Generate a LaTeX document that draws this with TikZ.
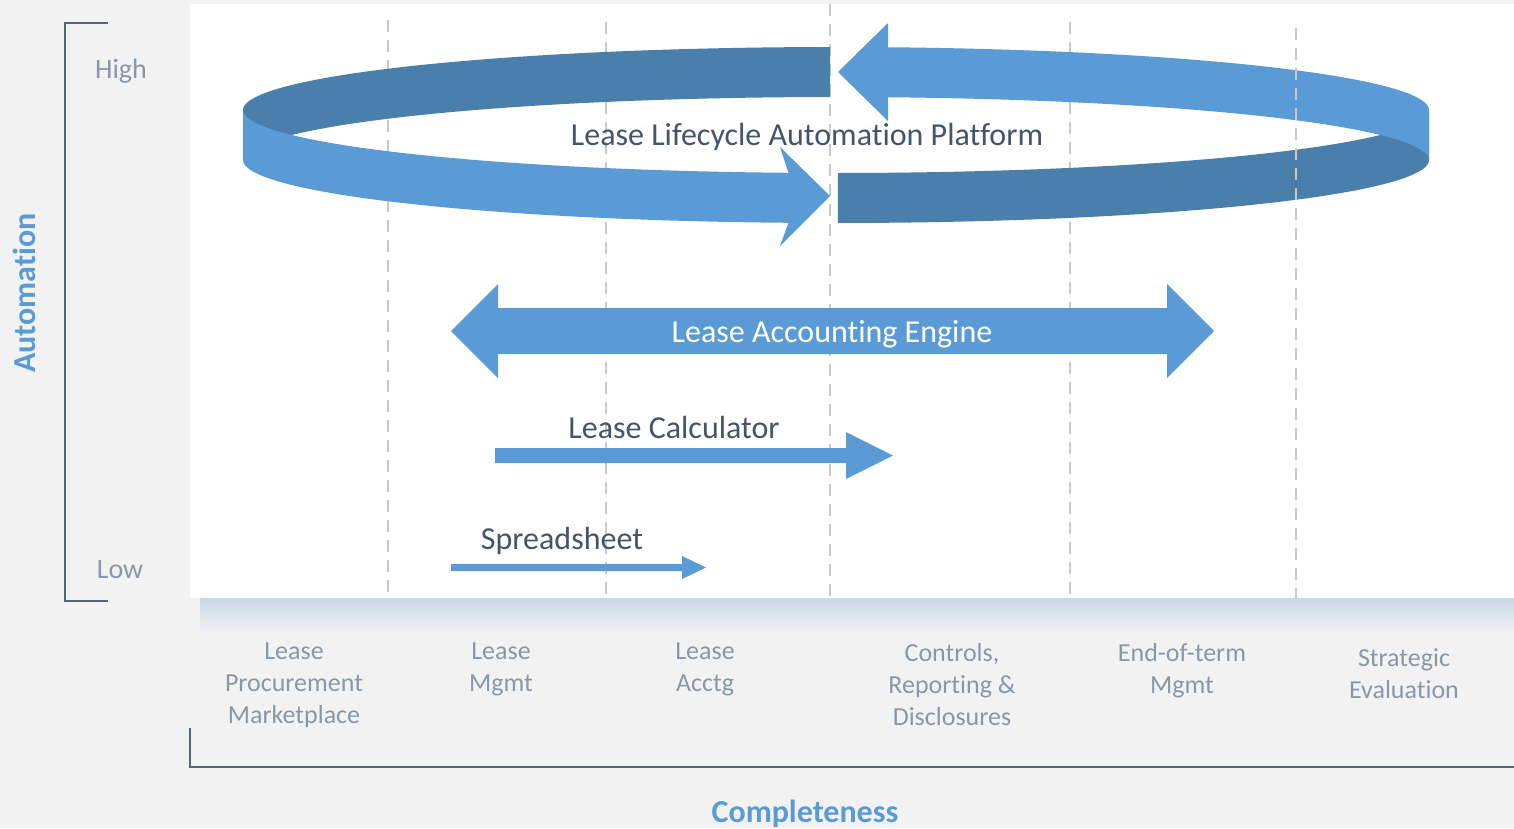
\documentclass[tikz,border=0pt]{standalone}
\usepackage{fontspec}
\setmainfont{Carlito}[Ligatures={NoCommon}]
\definecolor{bgc}{HTML}{F2F2F2}
\definecolor{lblue}{HTML}{5B9BD5}
\definecolor{dblue}{HTML}{4A7EAB}
\definecolor{tdark}{HTML}{44546A}
\definecolor{tgray}{HTML}{8A97A8}
\definecolor{axisc}{HTML}{5A6478}
\definecolor{dashc}{HTML}{C8C8C8}
\definecolor{shadc}{HTML}{C8D8E7}
\begin{document}
\begin{tikzpicture}[x=1pt,y=-1pt,
  bigtxt/.style={font=\fontsize{32}{38}\selectfont},
  axtxt/.style={font=\fontsize{28}{34}\selectfont, text=tgray},
  coltxt/.style={font=\fontsize{26}{32}\selectfont, text=tgray, align=center},
  titletxt/.style={font=\fontsize{32}{38}\selectfont\bfseries, text=lblue},
  gridline/.style={dashc, line width=2.6pt, dash pattern=on 12pt off 8pt},
  axisline/.style={axisc, line width=1.6pt},
]
\useasboundingbox (0,0) rectangle (1514,828);
\fill[bgc] (0,0) rectangle (1514,828);
% shadow under plot area
\shade[top color=shadc, bottom color=bgc] (200,598) rectangle (1514,634);
% plot area
\fill[white] (190,4) rectangle (1514,598);

% grid lines (under)
\draw[gridline] (388,20) -- (388,598);
\draw[gridline] (606,22) -- (606,598);
\draw[gridline] (830,4) -- (830,598);
\draw[gridline] (1070,22) -- (1070,598);

% circular arrow, piece 1 (back dark, front light)
\fill[dblue] plot[domain=90.58:180, samples=80, variable=\t] ({836+593*cos(\t)},{110-63*sin(\t)})
   -- plot[domain=180:90.58, samples=80, variable=\t] ({836+593*cos(\t)},{160-63*sin(\t)}) -- cycle;
\fill[lblue] plot[domain=180:265.4, samples=80, variable=\t] ({836+593*cos(\t)},{110-63*sin(\t)})
   -- (780,147) -- (830,196) -- (780,246)
   -- plot[domain=265.4:180, samples=80, variable=\t] ({836+593*cos(\t)},{160-63*sin(\t)}) -- cycle;
% piece 2 (front dark, back light)
\fill[dblue] plot[domain=270.19:360, samples=80, variable=\t] ({836+593*cos(\t)},{110-63*sin(\t)})
   -- plot[domain=360:270.19, samples=80, variable=\t] ({836+593*cos(\t)},{160-63*sin(\t)}) -- cycle;
\fill[lblue] plot[domain=0:84.97, samples=80, variable=\t] ({836+593*cos(\t)},{110-63*sin(\t)})
   -- (888,23) -- (838,72) -- (888,121)
   -- plot[domain=84.97:0, samples=80, variable=\t] ({836+593*cos(\t)},{160-63*sin(\t)}) -- cycle;

% Lease Accounting Engine double arrow
\fill[lblue] (451,331) -- (498,284) -- (498,308) -- (1167,308) -- (1167,284) -- (1214,331)
   -- (1167,378) -- (1167,354) -- (498,354) -- (498,378) -- cycle;
% Lease Calculator arrow
\fill[lblue] (495,448) -- (846,448) -- (846,432) -- (893,455.5) -- (846,479) -- (846,463) -- (495,463) -- cycle;
% Spreadsheet arrow
\fill[lblue] (451,564) -- (682,564) -- (682,556) -- (706,567.5) -- (682,579) -- (682,571) -- (451,571) -- cycle;

% grid line on top
\draw[gridline] (1296,28) -- (1296,598);

% labels
\node[bigtxt, text=tdark] (llap) at (807,137) {Lease Lifecycle Automation Platform};
\node[bigtxt, text=white] (lae) at (832,334) {Lease Accounting Engine};
\node[bigtxt, text=tdark] (lc) at (674,427) {Lease Calculator};
\node[bigtxt, text=tdark] (ss) at (562,541) {Spreadsheet};

% axes
\draw[axisline] (108,23) -- (65,23) -- (65,601) -- (108,601);
\draw[axisline] (190,728) -- (190,767) -- (1514,767);
\node[axtxt] (high) at (121,71) {High};
\node[axtxt] (low) at (120,570) {Low};
\node[titletxt, rotate=90] (autom) at (24,293) {Automation};
\node[titletxt] (compl) at (805,814) {Completeness};

% column labels
\node[coltxt] (c1) at (294,685) {Lease\\Procurement\\Marketplace};
\node[coltxt] (c2) at (501,669) {Lease\\Mgmt};
\node[coltxt] (c3) at (705,669) {Lease\\Acctg};
\node[coltxt] (c4) at (952,685) {Controls,\\Reporting \&\\Disclosures};
\node[coltxt] (c5) at (1182,671) {End-of-term\\Mgmt};
\node[coltxt] (c6) at (1404,674) {Strategic\\Evaluation};
\end{tikzpicture}
\end{document}
